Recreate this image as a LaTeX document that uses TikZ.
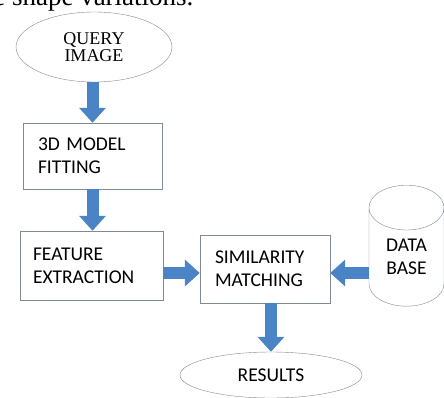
\documentclass[tikz,border=0pt]{standalone}
\usepackage{fontspec}
\setmainfont{Liberation Serif}
\newfontfamily\boxfont{Carlito}
\usetikzlibrary{arrows.meta,shapes.geometric,calc}
\definecolor{flowblue}{RGB}{74,132,198}
\definecolor{edgegray}{RGB}{128,138,150}
\begin{document}
\begin{tikzpicture}[x=1pt,y=-1pt]
		\tikzstyle{oval}=[draw=edgegray,shape=ellipse,inner sep=0pt,align=center]
		\tikzstyle{block}=[draw=edgegray,shape=rectangle,inner xsep=15pt,align=left,font=\boxfont\fontsize{19.5}{23}\selectfont]
		\tikzstyle{flow}=[draw=flowblue,line width=12pt,-{Triangle[width=26pt,length=15pt]}]
		\useasboundingbox (0,0) rectangle (444,397);

		\node[anchor=base east,font=\fontsize{27}{30}\selectfont](caption) at (197,5){e shape variations.};

		\node[oval,minimum width=156pt,minimum height=70pt,font=\fontsize{18}{17}\selectfont](query) at (94,47){QUERY\\IMAGE};
		\node[block,text width=109pt,minimum height=66pt](fitting) at (92.5,156){3D MODEL\\FITTING};
		\node[block,inner xsep=13pt,text width=117pt,minimum height=69pt](feature) at (91.5,265.5){FEATURE\\EXTRACTION};
		\node[block,text width=100pt,minimum height=68pt](matching) at (265,269){SIMILARITY\\MATCHING};
		\node[draw=edgegray,shape=cylinder,shape border rotate=90,aspect=1.1,minimum height=121pt,minimum width=75pt,inner sep=0pt,align=center,font=\boxfont\fontsize{19.5}{23}\selectfont](database) at (406.5,257){DATA\\BASE};
		\node[oval,minimum width=182pt,minimum height=46pt,font=\boxfont\fontsize{19.5}{23}\selectfont](results) at (271,375){RESULTS};

		\draw[flow] (fitting.north |- query.south) -- (fitting.north);
		\draw[flow] (fitting.south) -- (fitting.south |- feature.north);
		\draw[flow] ($(feature.east |- matching.west)+(0,4)$) -- ($(matching.west)+(0,4)$);
		\draw[flow] ($(database.west |- matching.east)+(0,4)$) -- ($(matching.east)+(0,4)$);
		\draw[flow] (matching.south -| results.north) -- (results.north);
	\end{tikzpicture}
\end{document}
